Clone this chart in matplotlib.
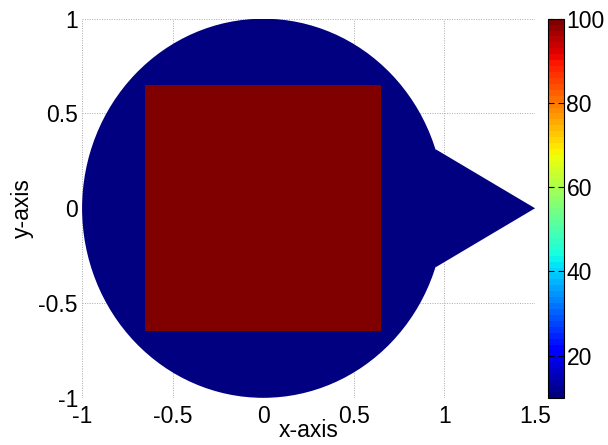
import numpy as np
import matplotlib
matplotlib.use('Agg')
import matplotlib.pyplot as plt
from matplotlib.patches import Circle, Polygon, Rectangle
from matplotlib.collections import PatchCollection

plt.rcParams['font.family'] = ['Liberation Sans', 'DejaVu Sans']

# region geometry and values
circle_r = 1.0
wedge_pts = [(0.95, 0.312), (1.5, 0.0), (0.95, -0.312)]
square_half = 0.65
region_vals = [10, 100, 10]   # circle, square, wedge (drawn circle, wedge, then square)

xticks = [-1, -0.5, 0, 0.5, 1, 1.5]
yticks = [-1, -0.5, 0, 0.5, 1]
cticks = [20, 40, 60, 80, 100]

fig = plt.figure(figsize=(6.08, 4.45), dpi=100)
ax = fig.add_axes([0.135, 0.106, 0.745, 0.852])
cax = fig.add_axes([0.901, 0.106, 0.026, 0.852])

patches = [Circle((0, 0), circle_r),
           Polygon(wedge_pts, closed=True),
           Rectangle((-square_half, -square_half), 2 * square_half, 2 * square_half)]
vals = [region_vals[0], region_vals[2], region_vals[1]]
cmap = plt.get_cmap('jet', 64)
pc = PatchCollection(patches, cmap=cmap, edgecolor='none', linewidth=0, antialiased=True)
pc.set_array(np.array(vals, dtype=float))
pc.set_clim(10, 100)
pc.set_zorder(2)
ax.add_collection(pc)

ax.set_xlim(-1, 1.5)
ax.set_ylim(-1, 1)
ax.set_xticks(xticks)
ax.set_yticks(yticks)
ax.set_xticklabels(['-1', '-0.5', '0', '0.5', '1', '1.5'])
ax.set_yticklabels(['-1', '-0.5', '0', '0.5', '1'])
ax.grid(True, linestyle=(0, (1, 1.5)), color='#aaaaaa', linewidth=0.7, zorder=0)
ax.set_axisbelow(True)
for s in ax.spines.values():
    s.set_visible(False)
ax.tick_params(length=0, labelsize=16.5)
ax.tick_params(axis='x', pad=5)
ax.tick_params(axis='y', pad=3)
ax.set_xlabel('x-axis', fontsize=16.5, labelpad=-6)
ax.set_ylabel('y-axis', fontsize=16.5, labelpad=3)

cb = fig.colorbar(pc, cax=cax, ticks=cticks)
cb.outline.set_linewidth(0.8)
cax.tick_params(direction='in', length=4, width=0.8, labelsize=16.5, left=True, right=True, pad=2)

fig.savefig('out.png', dpi=100)
